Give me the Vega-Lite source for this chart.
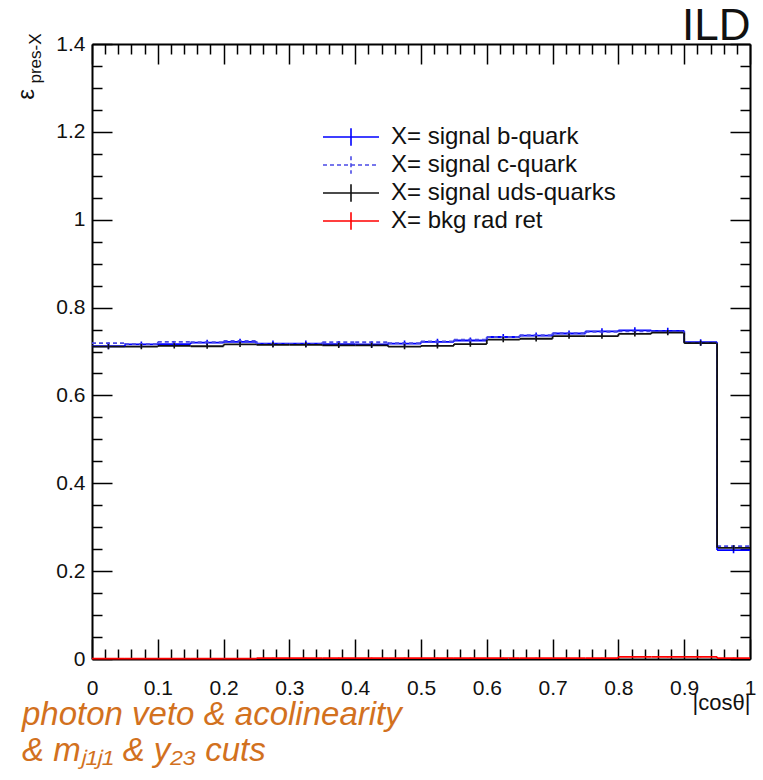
{
  "$schema": "https://vega.github.io/schema/vega-lite/v6.json",
  "width": 658,
  "height": 615,
  "autosize": {"type": "none"},
  "padding": {"left": 92, "top": 44, "right": 13, "bottom": 121},
  "background": "white",
  "config": {"font": "Liberation Sans", "view": {"stroke": null}},
  "title": {
    "text": ["photon veto & acolinearity", "& mⱼ₁ⱼ₁ & y₂₃ cuts"],
    "orient": "bottom", "anchor": "start", "frame": "group",
    "font": "Liberation Sans", "fontStyle": "italic", "fontWeight": "normal",
    "fontSize": 33, "color": "#d2711e", "lineHeight": 36,
    "dx": -70, "dy": -14, "offset": 0
  },
  "data": {"values": [
    {"s":"X= signal b-quark","lo":0.00,"hi":0.05,"c":0.025,"v":0.712,"e":0.007},
    {"s":"X= signal b-quark","lo":0.05,"hi":0.10,"c":0.075,"v":0.716,"e":0.007},
    {"s":"X= signal b-quark","lo":0.10,"hi":0.15,"c":0.125,"v":0.717,"e":0.007},
    {"s":"X= signal b-quark","lo":0.15,"hi":0.20,"c":0.175,"v":0.720,"e":0.007},
    {"s":"X= signal b-quark","lo":0.20,"hi":0.25,"c":0.225,"v":0.722,"e":0.007},
    {"s":"X= signal b-quark","lo":0.25,"hi":0.30,"c":0.275,"v":0.718,"e":0.007},
    {"s":"X= signal b-quark","lo":0.30,"hi":0.35,"c":0.325,"v":0.718,"e":0.007},
    {"s":"X= signal b-quark","lo":0.35,"hi":0.40,"c":0.375,"v":0.717,"e":0.007},
    {"s":"X= signal b-quark","lo":0.40,"hi":0.45,"c":0.425,"v":0.716,"e":0.007},
    {"s":"X= signal b-quark","lo":0.45,"hi":0.50,"c":0.475,"v":0.718,"e":0.007},
    {"s":"X= signal b-quark","lo":0.50,"hi":0.55,"c":0.525,"v":0.722,"e":0.007},
    {"s":"X= signal b-quark","lo":0.55,"hi":0.60,"c":0.575,"v":0.725,"e":0.007},
    {"s":"X= signal b-quark","lo":0.60,"hi":0.65,"c":0.625,"v":0.733,"e":0.007},
    {"s":"X= signal b-quark","lo":0.65,"hi":0.70,"c":0.675,"v":0.736,"e":0.007},
    {"s":"X= signal b-quark","lo":0.70,"hi":0.75,"c":0.725,"v":0.741,"e":0.007},
    {"s":"X= signal b-quark","lo":0.75,"hi":0.80,"c":0.775,"v":0.746,"e":0.007},
    {"s":"X= signal b-quark","lo":0.80,"hi":0.85,"c":0.825,"v":0.748,"e":0.007},
    {"s":"X= signal b-quark","lo":0.85,"hi":0.90,"c":0.875,"v":0.747,"e":0.007},
    {"s":"X= signal b-quark","lo":0.90,"hi":0.95,"c":0.925,"v":0.721,"e":0.007},
    {"s":"X= signal b-quark","lo":0.95,"hi":1.00,"c":0.975,"v":0.248,"e":0.007},
    {"s":"X= signal c-quark","lo":0.00,"hi":0.05,"c":0.025,"v":0.719,"e":0.007},
    {"s":"X= signal c-quark","lo":0.05,"hi":0.10,"c":0.075,"v":0.717,"e":0.007},
    {"s":"X= signal c-quark","lo":0.10,"hi":0.15,"c":0.125,"v":0.722,"e":0.007},
    {"s":"X= signal c-quark","lo":0.15,"hi":0.20,"c":0.175,"v":0.721,"e":0.007},
    {"s":"X= signal c-quark","lo":0.20,"hi":0.25,"c":0.225,"v":0.724,"e":0.007},
    {"s":"X= signal c-quark","lo":0.25,"hi":0.30,"c":0.275,"v":0.717,"e":0.007},
    {"s":"X= signal c-quark","lo":0.30,"hi":0.35,"c":0.325,"v":0.717,"e":0.007},
    {"s":"X= signal c-quark","lo":0.35,"hi":0.40,"c":0.375,"v":0.721,"e":0.007},
    {"s":"X= signal c-quark","lo":0.40,"hi":0.45,"c":0.425,"v":0.721,"e":0.007},
    {"s":"X= signal c-quark","lo":0.45,"hi":0.50,"c":0.475,"v":0.719,"e":0.007},
    {"s":"X= signal c-quark","lo":0.50,"hi":0.55,"c":0.525,"v":0.723,"e":0.007},
    {"s":"X= signal c-quark","lo":0.55,"hi":0.60,"c":0.575,"v":0.727,"e":0.007},
    {"s":"X= signal c-quark","lo":0.60,"hi":0.65,"c":0.625,"v":0.733,"e":0.007},
    {"s":"X= signal c-quark","lo":0.65,"hi":0.70,"c":0.675,"v":0.737,"e":0.007},
    {"s":"X= signal c-quark","lo":0.70,"hi":0.75,"c":0.725,"v":0.742,"e":0.007},
    {"s":"X= signal c-quark","lo":0.75,"hi":0.80,"c":0.775,"v":0.745,"e":0.007},
    {"s":"X= signal c-quark","lo":0.80,"hi":0.85,"c":0.825,"v":0.746,"e":0.007},
    {"s":"X= signal c-quark","lo":0.85,"hi":0.90,"c":0.875,"v":0.746,"e":0.007},
    {"s":"X= signal c-quark","lo":0.90,"hi":0.95,"c":0.925,"v":0.720,"e":0.007},
    {"s":"X= signal c-quark","lo":0.95,"hi":1.00,"c":0.975,"v":0.257,"e":0.007},
    {"s":"X= signal uds-quarks","lo":0.00,"hi":0.05,"c":0.025,"v":0.711,"e":0.006},
    {"s":"X= signal uds-quarks","lo":0.05,"hi":0.10,"c":0.075,"v":0.711,"e":0.006},
    {"s":"X= signal uds-quarks","lo":0.10,"hi":0.15,"c":0.125,"v":0.713,"e":0.006},
    {"s":"X= signal uds-quarks","lo":0.15,"hi":0.20,"c":0.175,"v":0.712,"e":0.006},
    {"s":"X= signal uds-quarks","lo":0.20,"hi":0.25,"c":0.225,"v":0.716,"e":0.006},
    {"s":"X= signal uds-quarks","lo":0.25,"hi":0.30,"c":0.275,"v":0.715,"e":0.006},
    {"s":"X= signal uds-quarks","lo":0.30,"hi":0.35,"c":0.325,"v":0.715,"e":0.006},
    {"s":"X= signal uds-quarks","lo":0.35,"hi":0.40,"c":0.375,"v":0.714,"e":0.006},
    {"s":"X= signal uds-quarks","lo":0.40,"hi":0.45,"c":0.425,"v":0.714,"e":0.006},
    {"s":"X= signal uds-quarks","lo":0.45,"hi":0.50,"c":0.475,"v":0.711,"e":0.006},
    {"s":"X= signal uds-quarks","lo":0.50,"hi":0.55,"c":0.525,"v":0.713,"e":0.006},
    {"s":"X= signal uds-quarks","lo":0.55,"hi":0.60,"c":0.575,"v":0.717,"e":0.006},
    {"s":"X= signal uds-quarks","lo":0.60,"hi":0.65,"c":0.625,"v":0.727,"e":0.006},
    {"s":"X= signal uds-quarks","lo":0.65,"hi":0.70,"c":0.675,"v":0.729,"e":0.006},
    {"s":"X= signal uds-quarks","lo":0.70,"hi":0.75,"c":0.725,"v":0.735,"e":0.006},
    {"s":"X= signal uds-quarks","lo":0.75,"hi":0.80,"c":0.775,"v":0.735,"e":0.006},
    {"s":"X= signal uds-quarks","lo":0.80,"hi":0.85,"c":0.825,"v":0.740,"e":0.006},
    {"s":"X= signal uds-quarks","lo":0.85,"hi":0.90,"c":0.875,"v":0.743,"e":0.006},
    {"s":"X= signal uds-quarks","lo":0.90,"hi":0.95,"c":0.925,"v":0.719,"e":0.006},
    {"s":"X= signal uds-quarks","lo":0.95,"hi":1.00,"c":0.975,"v":0.253,"e":0.006},
    {"s":"X= bkg rad ret","lo":0.00,"hi":0.05,"c":0.025,"v":0.001,"e":0.001},
    {"s":"X= bkg rad ret","lo":0.05,"hi":0.10,"c":0.075,"v":0.001,"e":0.001},
    {"s":"X= bkg rad ret","lo":0.10,"hi":0.15,"c":0.125,"v":0.001,"e":0.001},
    {"s":"X= bkg rad ret","lo":0.15,"hi":0.20,"c":0.175,"v":0.001,"e":0.001},
    {"s":"X= bkg rad ret","lo":0.20,"hi":0.25,"c":0.225,"v":0.001,"e":0.001},
    {"s":"X= bkg rad ret","lo":0.25,"hi":0.30,"c":0.275,"v":0.002,"e":0.001},
    {"s":"X= bkg rad ret","lo":0.30,"hi":0.35,"c":0.325,"v":0.002,"e":0.001},
    {"s":"X= bkg rad ret","lo":0.35,"hi":0.40,"c":0.375,"v":0.002,"e":0.001},
    {"s":"X= bkg rad ret","lo":0.40,"hi":0.45,"c":0.425,"v":0.002,"e":0.001},
    {"s":"X= bkg rad ret","lo":0.45,"hi":0.50,"c":0.475,"v":0.002,"e":0.001},
    {"s":"X= bkg rad ret","lo":0.50,"hi":0.55,"c":0.525,"v":0.002,"e":0.001},
    {"s":"X= bkg rad ret","lo":0.55,"hi":0.60,"c":0.575,"v":0.002,"e":0.001},
    {"s":"X= bkg rad ret","lo":0.60,"hi":0.65,"c":0.625,"v":0.002,"e":0.001},
    {"s":"X= bkg rad ret","lo":0.65,"hi":0.70,"c":0.675,"v":0.002,"e":0.001},
    {"s":"X= bkg rad ret","lo":0.70,"hi":0.75,"c":0.725,"v":0.002,"e":0.001},
    {"s":"X= bkg rad ret","lo":0.75,"hi":0.80,"c":0.775,"v":0.002,"e":0.001},
    {"s":"X= bkg rad ret","lo":0.80,"hi":0.85,"c":0.825,"v":0.005,"e":0.001},
    {"s":"X= bkg rad ret","lo":0.85,"hi":0.90,"c":0.875,"v":0.005,"e":0.001},
    {"s":"X= bkg rad ret","lo":0.90,"hi":0.95,"c":0.925,"v":0.005,"e":0.001},
    {"s":"X= bkg rad ret","lo":0.95,"hi":1.00,"c":0.975,"v":0.002,"e":0.001}
  ]},
  "encoding": {
    "color": {"field": "s", "type": "nominal",
      "scale": {"domain": ["X= signal b-quark","X= signal c-quark","X= signal uds-quarks","X= bkg rad ret"],
                "range": ["#0000ff","#4a4ae6","#111111","#ff0000"]},
      "legend": {"orient": "none", "legendX": 247, "legendY": 81, "title": null, "padding": 0,
        "symbolType": "M-4,0H4M0,-1.25V1.25", "symbolSize": 196, "symbolStrokeWidth": 1.6,
        "labelFont": "Liberation Sans", "labelFontSize": 24, "labelColor": "#111111", "labelOffset": 28,
        "labelLimit": 0, "rowPadding": 4, "direction": "vertical"}},
    "strokeDash": {"field": "s", "type": "nominal",
      "scale": {"domain": ["X= signal b-quark","X= signal c-quark","X= signal uds-quarks","X= bkg rad ret"],
                "range": [[1,0],[4,3],[1,0],[1,0]]},
      "legend": {"orient": "none", "legendX": 247, "legendY": 81, "title": null, "padding": 0,
        "symbolType": "M-4,0H4M0,-1.25V1.25", "symbolSize": 196, "symbolStrokeWidth": 1.6,
        "labelFont": "Liberation Sans", "labelFontSize": 24, "labelColor": "#111111", "labelOffset": 28,
        "labelLimit": 0, "rowPadding": 4, "direction": "vertical"}}
  },
  "resolve": {"axis": {"x": "independent", "y": "independent"}},
  "layer": [
    {
      "mark": {"type": "rule", "strokeWidth": 1.8},
      "encoding": {
        "x": {"field": "lo", "type": "quantitative", "scale": {"domain": [0, 1], "nice": false, "zero": false},
          "axis": {"orient": "bottom", "values": [0,0.1,0.2,0.3,0.4,0.5,0.6,0.7,0.8,0.9,1], "format": "~g",
            "ticks": false, "grid": false, "domain": true, "domainColor": "black", "domainWidth": 2,
            "labelFont": "Liberation Sans", "labelFontSize": 21, "labelColor": "#111111", "labelPadding": 18,
            "labelFlush": false, "labelOverlap": false,
            "title": "|cosθ|", "titleFont": "Liberation Sans", "titleFontSize": 22, "titleFontWeight": "normal",
            "titleColor": "#111111", "titleAlign": "right", "titleAngle": 0, "titleBaseline": "alphabetic", "titleX": 658, "titleY": 50}},
        "x2": {"field": "hi"},
        "y": {"field": "v", "type": "quantitative", "scale": {"domain": [0, 1.4], "nice": false, "zero": false},
          "axis": {"orient": "left", "values": [0,0.2,0.4,0.6,0.8,1,1.2,1.4], "format": "~g",
            "ticks": false, "grid": false, "domain": true, "domainColor": "black", "domainWidth": 2,
            "labelFont": "Liberation Sans", "labelFontSize": 21, "labelColor": "#111111", "labelPadding": 7,
            "labelFlush": false, "labelOverlap": false,
            "title": "ε", "titleFont": "Liberation Sans", "titleFontSize": 24, "titleFontWeight": "normal",
            "titleColor": "#111111", "titleAngle": 270, "titleAlign": "center", "titleBaseline": "alphabetic", "titleX": -59, "titleY": 50}}
      }
    },
    {
      "transform": [
        {"window": [{"op": "lead", "field": "v", "as": "vn"}], "groupby": ["s"], "sort": [{"field": "lo"}]},
        {"filter": "isValid(datum.vn)"}
      ],
      "mark": {"type": "rule", "strokeWidth": 1.8},
      "encoding": {
        "x": {"field": "hi", "type": "quantitative",
          "axis": {"orient": "bottom", "values": [0,0.1,0.2,0.3,0.4,0.5,0.6,0.7,0.8,0.9,1],
            "labels": false, "domain": false, "grid": false, "ticks": true, "tickSize": -20, "tickWidth": 1.5, "tickColor": "black", "title": null}},
        "y": {"field": "v", "type": "quantitative",
          "axis": {"orient": "left", "values": [0,0.2,0.4,0.6,0.8,1,1.2,1.4],
            "labels": false, "domain": false, "grid": false, "ticks": true, "tickSize": -20, "tickWidth": 1.5, "tickColor": "black", "title": null}},
        "y2": {"field": "vn"}
      }
    },
    {
      "mark": {"type": "errorbar", "thickness": 1.6},
      "encoding": {
        "x": {"field": "c", "type": "quantitative", "axis": null},
        "y": {"field": "v", "type": "quantitative", "axis": null},
        "yError": {"field": "e"}
      }
    },
    {
      "mark": {"type": "rule", "strokeOpacity": 0},
      "encoding": {
        "x": {"field": "lo", "type": "quantitative",
          "axis": {"orient": "bottom", "values": [0.02,0.04,0.06,0.08,0.12,0.14,0.16,0.18,0.22,0.24,0.26,0.28,0.32,0.34,0.36,0.38,0.42,0.44,0.46,0.48,0.52,0.54,0.56,0.58,0.62,0.64,0.66,0.68,0.72,0.74,0.76,0.78,0.82,0.84,0.86,0.88,0.92,0.94,0.96,0.98],
            "labels": false, "domain": false, "grid": false, "ticks": true, "tickSize": -10, "tickWidth": 1.5, "tickColor": "black", "title": null}},
        "x2": {"field": "hi"},
        "y": {"field": "v", "type": "quantitative",
          "axis": {"orient": "left", "values": [0.05,0.1,0.15,0.25,0.3,0.35,0.45,0.5,0.55,0.65,0.7,0.75,0.85,0.9,0.95,1.05,1.1,1.15,1.25,1.3,1.35],
            "labels": false, "domain": false, "grid": false, "ticks": true, "tickSize": -10, "tickWidth": 1.5, "tickColor": "black",
            "title": "pres-X", "titleFont": "Liberation Sans", "titleFontSize": 17, "titleFontWeight": "normal",
            "titleColor": "#111111", "titleAngle": 270, "titleAlign": "center", "titleBaseline": "alphabetic", "titleX": -52, "titleY": 14}}
      }
    },
    {
      "mark": {"type": "rule", "strokeOpacity": 0},
      "encoding": {
        "x": {"field": "lo", "type": "quantitative",
          "axis": {"orient": "top", "values": [0,0.1,0.2,0.3,0.4,0.5,0.6,0.7,0.8,0.9,1],
            "labels": false, "domain": true, "domainColor": "black", "domainWidth": 2, "grid": false, "ticks": true, "tickSize": -20, "tickWidth": 1.5, "tickColor": "black",
            "title": "ILD", "titleFont": "Liberation Sans", "titleFontSize": 44, "titleFontWeight": "normal",
            "titleColor": "#111111", "titleAlign": "right", "titleAngle": 0, "titleBaseline": "alphabetic", "titleX": 658, "titleY": -5}},
        "x2": {"field": "hi"},
        "y": {"field": "v", "type": "quantitative",
          "axis": {"orient": "right", "values": [0,0.2,0.4,0.6,0.8,1,1.2,1.4],
            "labels": false, "domain": true, "domainColor": "black", "domainWidth": 2, "grid": false, "ticks": true, "tickSize": -20, "tickWidth": 1.5, "tickColor": "black", "title": null}}
      }
    },
    {
      "mark": {"type": "rule", "strokeOpacity": 0},
      "encoding": {
        "x": {"field": "lo", "type": "quantitative",
          "axis": {"orient": "top", "values": [0.02,0.04,0.06,0.08,0.12,0.14,0.16,0.18,0.22,0.24,0.26,0.28,0.32,0.34,0.36,0.38,0.42,0.44,0.46,0.48,0.52,0.54,0.56,0.58,0.62,0.64,0.66,0.68,0.72,0.74,0.76,0.78,0.82,0.84,0.86,0.88,0.92,0.94,0.96,0.98],
            "labels": false, "domain": false, "grid": false, "ticks": true, "tickSize": -10, "tickWidth": 1.5, "tickColor": "black", "title": null}},
        "x2": {"field": "hi"},
        "y": {"field": "v", "type": "quantitative",
          "axis": {"orient": "right", "values": [0.05,0.1,0.15,0.25,0.3,0.35,0.45,0.5,0.55,0.65,0.7,0.75,0.85,0.9,0.95,1.05,1.1,1.15,1.25,1.3,1.35],
            "labels": false, "domain": false, "grid": false, "ticks": true, "tickSize": -10, "tickWidth": 1.5, "tickColor": "black", "title": null}}
      }
    }
  ]
}
